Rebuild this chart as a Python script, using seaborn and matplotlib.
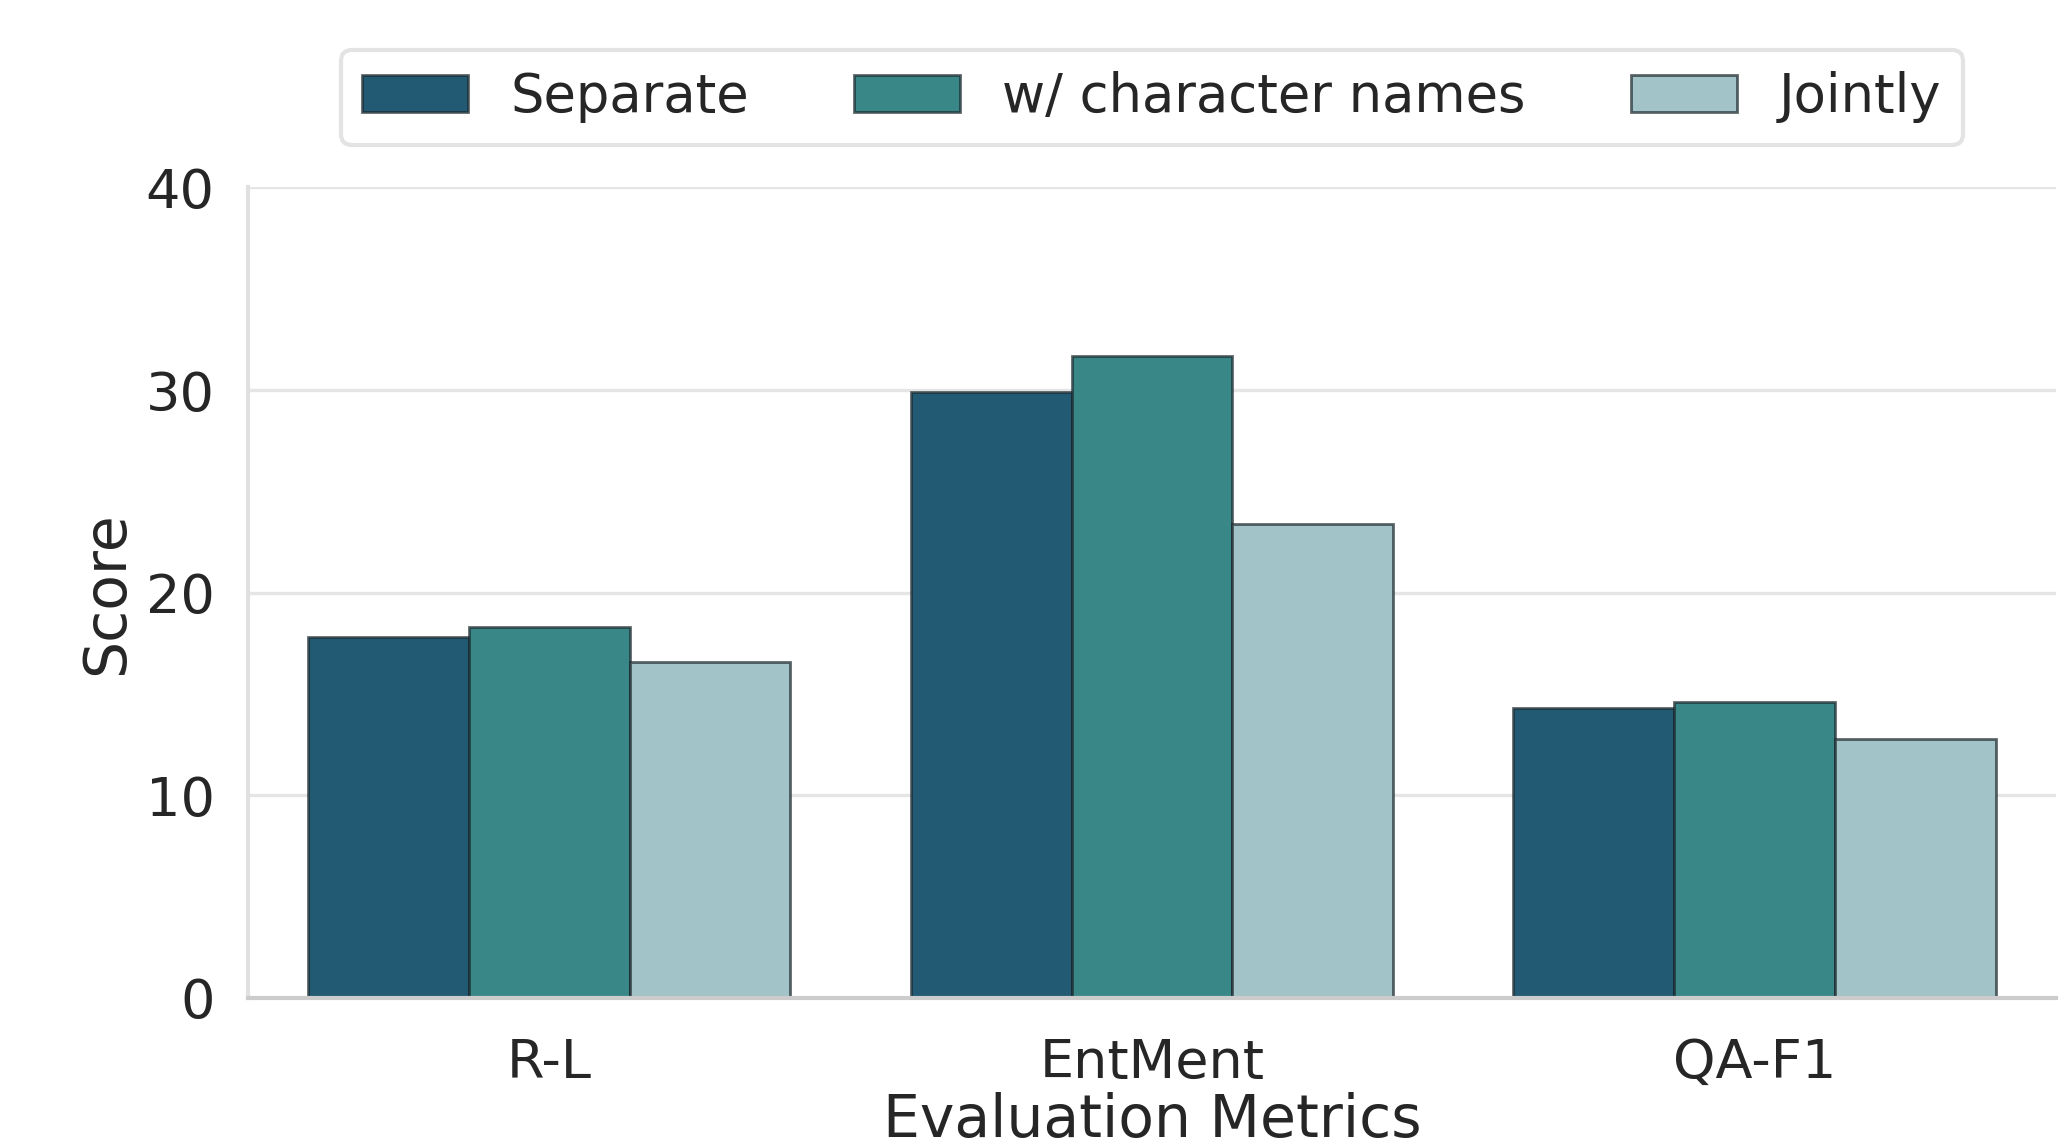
import numpy as np
import pandas as pd
import matplotlib
matplotlib.use("Agg")
import matplotlib.pyplot as plt
import seaborn as sns

metrics = ["R-L", "EntMent", "QA-F1"]
methods = ["Separate", "w/ character names", "Jointly"]
separate = [17.8, 29.9, 14.3]
with_names = [18.3, 31.7, 14.6]
jointly = [16.6, 23.4, 12.8]
colors = ["#235a73", "#3a8787", "#a2c3c7"]

df = pd.DataFrame({
    "Evaluation Metrics": metrics * 3,
    "Method": [methods[0]] * 3 + [methods[1]] * 3 + [methods[2]] * 3,
    "Score": separate + with_names + jointly,
})

sns.set_theme(style="whitegrid")
plt.rcParams['font.family'] = ['DejaVu Sans']

fig = plt.figure(figsize=(10.345, 5.715), dpi=200)
ax = fig.add_axes([0.1199, 0.127, 0.8737, 0.709])

sns.barplot(data=df, x="Evaluation Metrics", y="Score", hue="Method",
            hue_order=methods, palette=colors, ax=ax,
            edgecolor=(0.1, 0.15, 0.17, 0.7), linewidth=1.0, saturation=1)

ax.set_ylim(0, 40)
ax.set_yticks([0, 10, 20, 30, 40])
ax.set_xlim(-0.5, 2.5)
ax.tick_params(axis="both", labelsize=19.5, pad=6)
ax.tick_params(axis="x", pad=8)
ax.set_xlabel("Evaluation Metrics", fontsize=21, labelpad=1)
ax.set_ylabel("Score", fontsize=21, labelpad=4)
ax.grid(axis="x", visible=False)
ax.grid(axis="y", color="#e5e5e5", linewidth=1.2)
sns.despine(ax=ax, top=True, right=True)
ax.spines["left"].set_color("#e0e0e0")
ax.spines["left"].set_linewidth(1.5)
ax.spines["bottom"].set_color("#cccccc")
ax.spines["bottom"].set_linewidth(1.5)

leg = ax.legend(loc="lower center", bbox_to_anchor=(0.5, 1.053), ncol=3,
                fontsize=19, frameon=True, borderaxespad=0,
                handlelength=2.0, columnspacing=2.0)
leg.get_frame().set_edgecolor("#dddddd")
leg.get_frame().set_linewidth(1.5)

fig.savefig("out.png", dpi=200)
